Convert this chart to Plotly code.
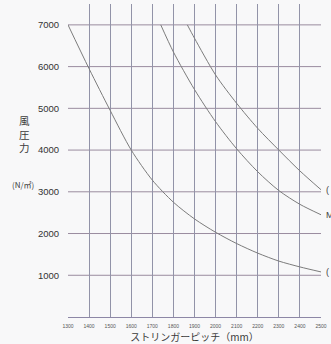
"""Wind pressure vs stringer pitch chart."""

import plotly.graph_objects as go

# stringer pitch (mm) / wind pressure (N/m2), three curves
pitch_a = [1300, 1400, 1500, 1600, 1700, 1800, 1900, 2000, 2100, 2200, 2300, 2400, 2500]
press_a = [7000, 5950, 4950, 4000, 3280, 2750, 2350, 2030, 1760, 1530, 1340, 1200, 1080]

pitch_b = [1740, 1800, 1900, 2000, 2100, 2200, 2300, 2400, 2500]
press_b = [7000, 6350, 5450, 4680, 4030, 3480, 3030, 2700, 2450]

pitch_c = [1866, 1900, 2000, 2100, 2200, 2300, 2400, 2500]
press_c = [7000, 6680, 5800, 5120, 4520, 4000, 3500, 3050]

x_ticks = list(range(1300, 2600, 100))
y_ticks = [1000, 2000, 3000, 4000, 5000, 6000, 7000]

# cut-off labels at the right edge: (text, y value)
edge_labels = [("(", 3050), ("M", 2450), ("(", 1080)]

BG = "#f8f8f9"
CURVE = "#7c7c7c"
JP = "Noto Sans CJK JP"

fig = go.Figure()

for xs, ys in [(pitch_a, press_a), (pitch_b, press_b), (pitch_c, press_c)]:
    fig.add_trace(go.Scatter(
        x=xs, y=ys, mode="lines",
        line=dict(color=CURVE, width=1, shape="spline", smoothing=0.8),
        showlegend=False, hoverinfo="skip",
    ))

# horizontal lines stop at 7000; verticals run to the top
for v in y_ticks:
    fig.add_shape(type="line", xref="x", yref="y", x0=1300, x1=2500, y0=v, y1=v,
                  line=dict(color="#9a8c9f", width=1), layer="below")

fig.update_layout(
    width=331,
    height=344,
    paper_bgcolor=BG,
    plot_bgcolor=BG,
    margin=dict(l=68, r=8, t=4, b=27),
    font=dict(family="Liberation Sans, Arial", color="#3c3c3c"),
    xaxis=dict(
        range=[1300, 2500],
        tickvals=x_ticks,
        ticktext=[str(v) for v in x_ticks],
        tickfont=dict(size=5, color="#555"),
        showgrid=True,
        gridcolor="#9293a8",
        gridwidth=1,
        showline=True,
        linecolor="#8d87a6",
        linewidth=1,
        zeroline=False,
        ticks="outside",
        ticklen=4,
        tickcolor="rgba(0,0,0,0)",
        title=dict(text="ストリンガーピッチ（mm）", font=dict(family=JP, size=10, color="#3a3a3a"),
                   standoff=1),
    ),
    yaxis=dict(
        range=[0, 7500],
        tickvals=y_ticks,
        ticktext=[str(v) for v in y_ticks],
        tickfont=dict(size=9.5, color="#333"),
        showgrid=False,
        showline=False,
        zeroline=False,
        ticks="outside",
        ticklen=6,
        tickcolor="rgba(0,0,0,0)",
    ),
)

fig.add_annotation(text="風<br>圧<br>力", xref="paper", yref="paper",
                   x=(24 - 68) / 255, y=(316.7 - 134) / 312.7, showarrow=False,
                   xanchor="center", yanchor="middle",
                   font=dict(family=JP, size=10.5, color="#3c3c3c"))
fig.add_annotation(text="(N/㎡)", xref="paper", yref="paper",
                   x=(23 - 68) / 255, y=(316.7 - 184) / 312.7, showarrow=False,
                   xanchor="center", yanchor="middle",
                   font=dict(family=JP, size=8, color="#3c3c3c"))

for txt, yv in edge_labels:
    fig.add_annotation(text=txt, xref="paper", yref="y", x=(326 - 68) / 255, y=yv,
                       xanchor="left", showarrow=False,
                       font=dict(size=9, color="#444"))

# drop the default 8px body margin so the figure fills the window
fig.write_html("out.html", config={"displayModeBar": False},
               post_script="document.body.style.margin='0';")
